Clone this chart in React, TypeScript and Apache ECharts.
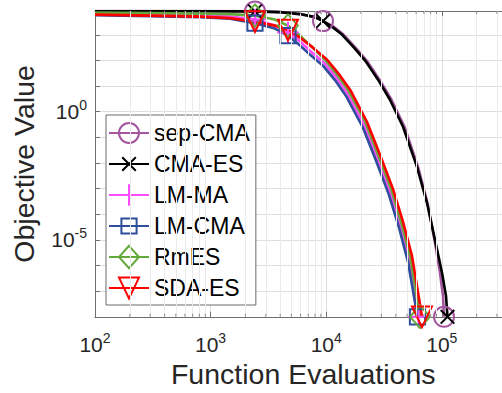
import { useEffect, useRef } from 'react';
import * as echarts from 'echarts';

// ---- axis ranges ----
const X_MIN = 100;
const X_MAX = 4e5;
const Y_MIN = 1e-8;
const Y_MAX = 8500;

// ---- series names / colours ----
const seriesNames = ['sep-CMA', 'CMA-ES', 'LM-MA', 'LM-CMA', 'RmES', 'SDA-ES'];
const seriesColors = ['#A3569F', '#000000', '#FF4CFF', '#2E4D9B', '#63A93A', '#FF0000'];

// ---- data (function evaluations, objective value) ----
const sepCmaEvals = [100, 809, 2420, 3980, 5930, 8000, 9380, 11560, 14110, 17930, 22770, 28920, 36720, 47570, 62250, 75200, 86500, 96500, 102400, 104500];
const sepCmaValues = [8430, 8430, 8200, 7710, 6440, 4910, 3430, 2090, 1020, 316, 89.8, 17.8, 2.94, 0.26, 7.1e-3, 2.8e-4, 1e-5, 5.1e-7, 6.5e-8, 1e-8];
const sepCmaMarks = [2, 6, 19];

const cmaEsEvals = [100, 809, 2420, 3980, 5930, 8000, 9380, 11200, 13700, 17400, 22100, 28100, 35600, 46200, 61000, 74400, 87300, 100500, 108700, 112000];
const cmaEsValues = [8430, 8430, 8200, 7710, 6440, 4910, 3430, 2090, 1020, 316, 89.8, 17.8, 2.94, 0.26, 7.1e-3, 2.8e-4, 1e-5, 5.1e-7, 6.5e-8, 1e-8];
const cmaEsMarks = [2, 6, 19];

const lmMaEvals = [100, 299, 809, 1470, 2420, 3600, 4670, 5820, 7240, 9570, 12400, 15100, 21200, 27500, 35600, 43500, 52000, 57500, 62900];
const lmMaValues = [6730, 6150, 5620, 5140, 3930, 2290, 1220, 593, 241, 82, 19.5, 5.52, 0.31, 0.016, 7.5e-4, 3.85e-5, 1.81e-6, 1.33e-7, 1e-8];
const lmMaMarks = [4, 6, 18];

const lmCmaEvals = [100, 299, 809, 1470, 2420, 3600, 4670, 5700, 7100, 9380, 12200, 14800, 20800, 27000, 34900, 42700, 51000, 56400, 61600];
const lmCmaValues = [5890, 5370, 4910, 4290, 2860, 1750, 930, 453, 184, 62.6, 14.9, 4.22, 0.237, 0.0122, 5.7e-4, 2.94e-5, 1.38e-6, 1.02e-7, 1e-8];
const lmCmaMarks = [4, 6, 18];

const rmEsEvals = [100, 299, 809, 1470, 2420, 3600, 4670, 5820, 7390, 9770, 12600, 15400, 21700, 28100, 36400, 44400, 53100, 58700, 64800];
const rmEsValues = [7360, 7050, 6730, 6440, 5620, 3930, 2290, 1020, 362, 107, 25.5, 7.23, 0.407, 0.0209, 9.8e-4, 5.05e-5, 2.37e-6, 1.6e-7, 1e-8];
const rmEsMarks = [4, 6, 18];

const sdaEsEvals = [100, 299, 809, 1470, 2420, 3600, 4670, 5930, 7690, 10200, 13200, 16100, 22500, 29200, 37800, 46200, 55200, 61000, 67400];
const sdaEsValues = [6150, 5620, 5140, 4490, 3280, 2290, 1530, 778, 316, 107, 25.5, 7.23, 0.407, 0.0209, 9.8e-4, 5.05e-5, 2.37e-6, 1.6e-7, 1e-8];
const sdaEsMarks = [4, 6, 18];

// minor log grid positions on x
const minorGridX = [200, 300, 400, 500, 600, 700, 800, 900, 2000, 3000, 4000, 5000, 6000, 7000, 8000, 9000, 20000, 30000, 40000, 50000, 60000, 70000, 80000, 90000, 200000, 300000];

// ---- styles ----
const FONT = "'Liberation Sans', Arial, Helvetica, sans-serif";
const TEXT = '#262626';
const AXIS = '#6e6e6e';

const symbols = [
  'path://M0,0M28,28M26.5,14A12.5,12.5,0,1,1,1.5,14A12.5,12.5,0,1,1,26.5,14Z',
  'path://M0,0M28,28M5.5,5.5L22.5,22.5M22.5,5.5L5.5,22.5',
  'path://M0,0M28,28M14,0.5L14,27.5M0.5,14L27.5,14',
  'path://M0,0M28,28M4.5,4.5L23.5,4.5L23.5,23.5L4.5,23.5Z',
  'path://M0,0M28,28M14,0L26.5,14L14,28L1.5,14Z',
  'path://M0,0M28,28M1.5,1L26.5,1L14,27Z',
];

const allData = [
  [sepCmaEvals, sepCmaValues, sepCmaMarks],
  [cmaEsEvals, cmaEsValues, cmaEsMarks],
  [lmMaEvals, lmMaValues, lmMaMarks],
  [lmCmaEvals, lmCmaValues, lmCmaMarks],
  [rmEsEvals, rmEsValues, rmEsMarks],
  [sdaEsEvals, sdaEsValues, sdaEsMarks],
] as const;

function logLabel(v: number, every: number): string {
  const e = Math.log10(v);
  const r = Math.round(e);
  if (Math.abs(e - r) > 1e-6 || r % every !== 0) return '';
  return `{b|10}{s|${r}}`;
}

const richLabel = {
  b: { fontSize: 21, fontFamily: FONT, color: TEXT },
  s: { fontSize: 14, fontFamily: FONT, color: TEXT, padding: [0, 0, 13, 0] },
};

function buildOption() {
  const dataSeries = allData.map(([xs, ys, marks], i) => ({
    name: seriesNames[i],
    type: 'line',
    z: 3,
    symbol: symbols[i],
    symbolSize: 22.4,
    showSymbol: true,
    showAllSymbol: true,
    smooth: false,
    clip: true,
    emphasis: { disabled: true },
    itemStyle: { color: 'rgba(0,0,0,0)', borderColor: seriesColors[i], borderWidth: 2 },
    lineStyle: { color: seriesColors[i], width: 2.6, join: 'round' },
    data: (xs as readonly number[]).map((x, k) =>
      (marks as readonly number[]).includes(k)
        ? { value: [x, (ys as readonly number[])[k]] }
        : { value: [x, (ys as readonly number[])[k]], symbol: 'none' }
    ),
  }));

  const helperGrid = {
    name: '_grid',
    type: 'line',
    z: 1,
    silent: true,
    data: [[X_MIN, Y_MIN]],
    showSymbol: false,
    lineStyle: { opacity: 0 },
    markLine: {
      silent: true,
      symbol: 'none',
      animation: false,
      label: { show: false },
      lineStyle: { color: '#ebebeb', width: 1, type: 'solid' },
      emphasis: { disabled: true },
      data: minorGridX.map((v) => ({ xAxis: v })),
    },
  };

  const tickSeries = (yv: number, off: number, nm: string) => ({
    name: nm,
    type: 'scatter',
    z: 5,
    silent: true,
    clip: false,
    symbol: 'rect',
    symbolSize: [1, 3],
    symbolOffset: [0, off],
    itemStyle: { color: AXIS },
    data: minorGridX.map((v) => [v, yv]),
  });

  return {
    animation: false,
    backgroundColor: '#ffffff',
    grid: { left: 95, top: 11, width: 416.4, height: 305.8, outerBoundsMode: 'none', containLabel: false },
    xAxis: [
      {
        type: 'log',
        min: X_MIN,
        max: X_MAX,
        interval: 1,
        position: 'bottom',
        name: 'Function Evaluations',
        nameLocation: 'middle',
        nameGap: 42,
        nameTextStyle: { fontSize: 28.5, fontFamily: FONT, color: TEXT },
        axisLine: { show: true, lineStyle: { color: AXIS, width: 1 } },
        axisTick: { show: true, inside: true, length: 5, lineStyle: { color: AXIS } },
        minorTick: { show: false },
        axisLabel: {
          margin: 14,
          formatter: (v: number) => logLabel(v, 1),
          rich: richLabel,
        },
        splitLine: { show: true, lineStyle: { color: '#dedede', width: 1 } },
      },
      {
        type: 'log',
        min: X_MIN,
        max: X_MAX,
        interval: 1,
        position: 'top',
        axisLine: { show: true, lineStyle: { color: AXIS, width: 1 } },
        axisTick: { show: true, inside: true, length: 5, lineStyle: { color: AXIS } },
        axisLabel: { show: false },
        splitLine: { show: false },
      },
    ],
    yAxis: {
      type: 'log',
      min: Y_MIN,
      max: Y_MAX,
      interval: 1,
      name: 'Objective Value',
      nameLocation: 'middle',
      nameGap: 57,
      nameTextStyle: { fontSize: 28.5, fontFamily: FONT, color: TEXT },
      axisLine: { show: true, lineStyle: { color: AXIS, width: 1 } },
      axisTick: { show: true, inside: true, length: 5, lineStyle: { color: AXIS } },
      axisLabel: {
        margin: 8,
        formatter: (v: number) => logLabel(v, 5),
        rich: richLabel,
      },
      splitLine: { show: true, lineStyle: { color: '#dedede', width: 1 } },
    },
    legend: {
      show: true,
      data: seriesNames,
      orient: 'vertical',
      left: 106,
      top: 115,
      itemWidth: 40,
      itemHeight: 28,
      itemGap: 3,
      itemTextGap: 4,
      padding: [4, 6, 3, 2],
      backgroundColor: '#ffffff',
      borderColor: '#6a6a6a',
      borderWidth: 1,
      borderRadius: 0,
      selectedMode: false,
      textStyle: { fontSize: 23, fontFamily: FONT, color: '#000000', lineHeight: 28 },
    },
    series: [helperGrid, ...dataSeries, tickSeries(Y_MIN, -1.5, '_tb'), tickSeries(Y_MAX, 1.5, '_tt')],
  };
}

export default function App() {
  const ref = useRef<HTMLDivElement>(null);
  useEffect(() => {
    document.body.style.margin = '0';
    const chart = echarts.init(ref.current as HTMLDivElement, null, { renderer: 'svg' });
    chart.setOption(buildOption() as any);
    return () => chart.dispose();
  }, []);
  return (
    <div
      ref={ref}
      style={{ position: 'absolute', left: 0, top: 0, width: 502, height: 393, background: '#fff' }}
    />
  );
}
